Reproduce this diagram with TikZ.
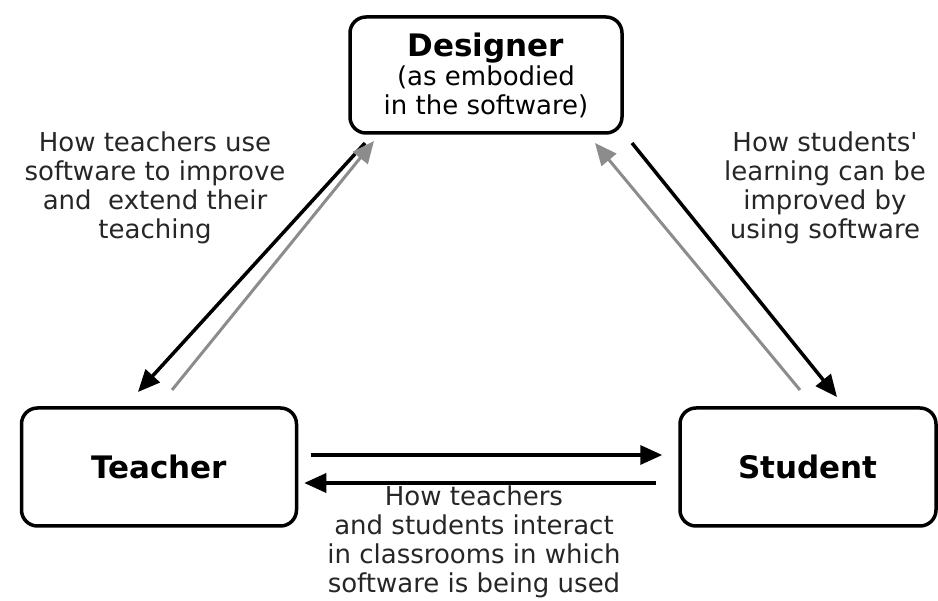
\documentclass[tikz,border=0pt]{standalone}
\usepackage{fontspec}
\setmainfont{DejaVu Sans}
\usetikzlibrary{arrows.meta}

\begin{document}
\begin{tikzpicture}[
		x=1pt, y=-1pt,
		align=center,
		>={Triangle[length=22pt,width=19pt]},
		line width=3.5pt,
		role/.style={draw, rounded corners=16pt, minimum height=118pt,
				font=\fontsize{31}{29}\selectfont\bfseries},
		remark/.style={font=\fontsize{26}{29}\selectfont, text=black!85},
		dark/.style={->, black, line width=3.5pt},
		pale/.style={->, black!45, line width=3pt}
	]
	\useasboundingbox (0,0) rectangle (938,601);

	\node[role, minimum width=272pt, minimum height=116pt] (designer) at (486,75)
	{Designer\\ \fontsize{26}{29}\selectfont\mdseries (as embodied\\ \fontsize{26}{29}\selectfont\mdseries in the software)};
	\node[role, minimum width=275pt] (teacher) at (159,467) {Teacher};
	\node[role, minimum width=256pt] (student) at (808,467) {Student};

	\node[remark] (teachuse) at (155,188) {How teachers use\\ software to improve\\ and \ extend their\\ teaching};
	\node[remark] (learnuse) at (825,188) {How students\textquotesingle\\ learning can be\\ improved by\\ using software};
	\node[remark] (classuse) at (474,542) {How teachers\\ and students interact\\ in classrooms in which\\ software is being used};

	% ends of the slanted arrows
	\coordinate (dt-a) at (365,143);
	\coordinate (dt-b) at (138,392);
	\coordinate (td-a) at (172,390);
	\coordinate (td-b) at (374,141);
	\coordinate (ds-a) at (632,143);
	\coordinate (ds-b) at (837,397);
	\coordinate (sd-a) at (800,390);
	\coordinate (sd-b) at (595,143);

	\draw[dark] (dt-a) -- (dt-b);
	\draw[pale] (td-a) -- (td-b);
	\draw[dark] (ds-a) -- (ds-b);
	\draw[pale] (sd-a) -- (sd-b);

	\draw[dark, shorten <=13pt, shorten >=16pt] ([yshift=12pt]teacher.east) -- ([yshift=12pt]student.west);
	\draw[dark, shorten <=22pt, shorten >=6pt] ([yshift=-16pt]student.west) -- ([yshift=-16pt]teacher.east);
\end{tikzpicture}
\end{document}
